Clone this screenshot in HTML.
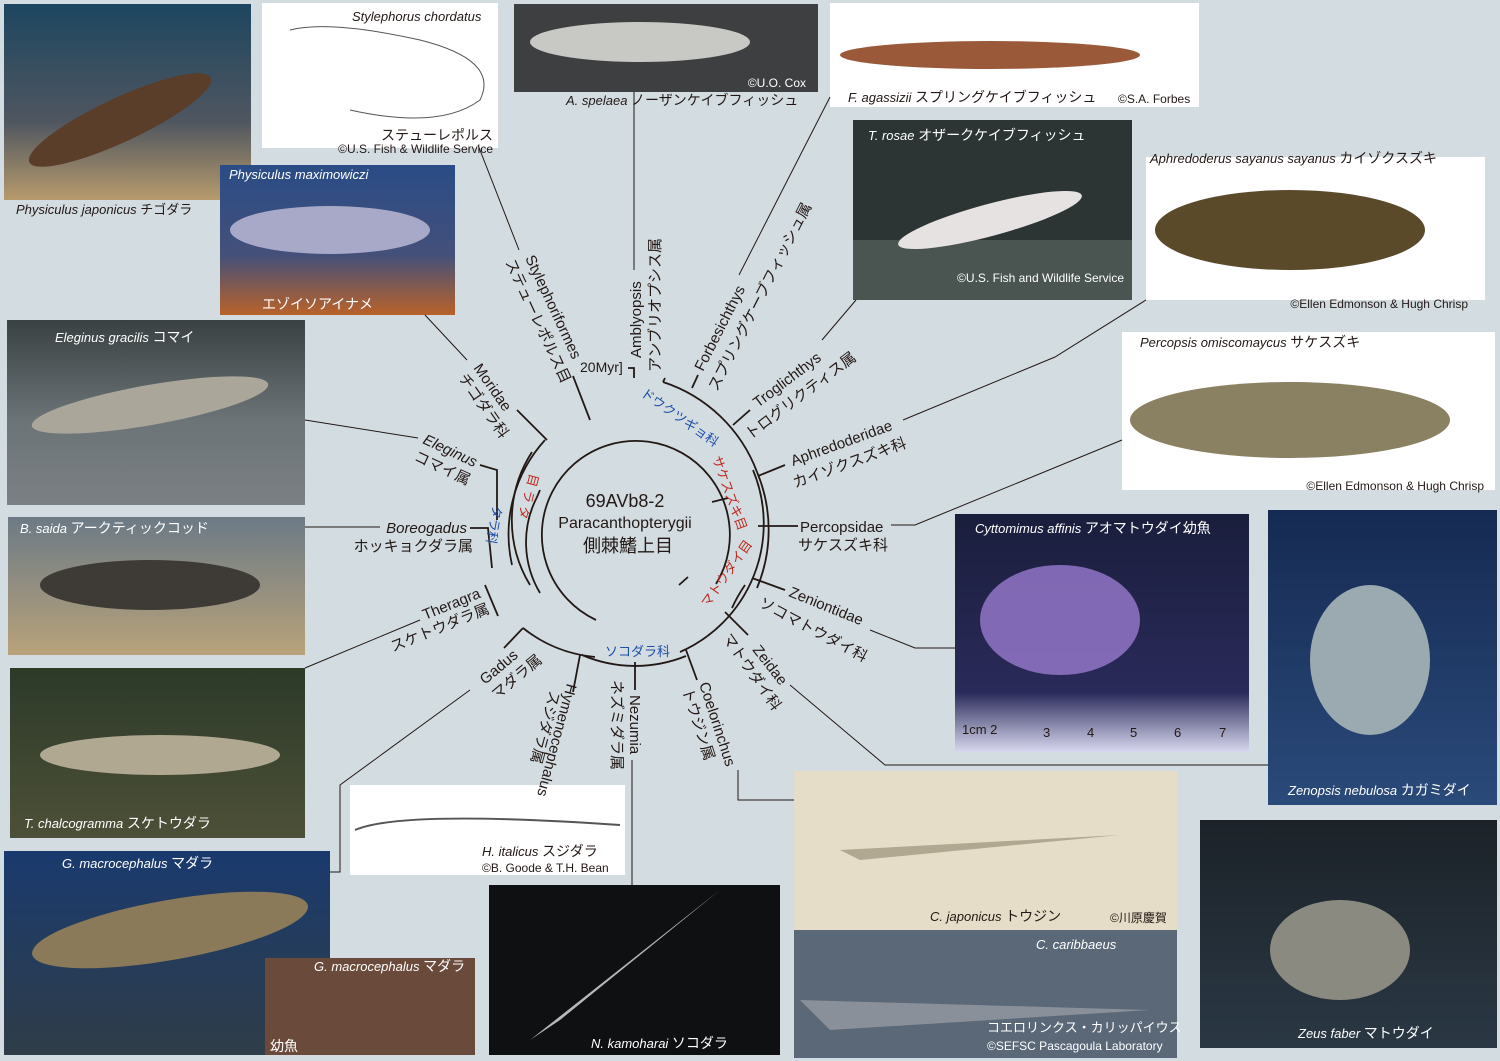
<!DOCTYPE html>
<html><head><meta charset="utf-8"><style>
html,body{margin:0;padding:0;background:#d3dde1;}
svg{display:block;}
text{font-family:"Liberation Sans","Noto Sans CJK JP",sans-serif;fill:#231815;}
.it{font-style:italic;}
.cap{font-size:13px;font-style:italic;}
.w{fill:#fff;}
</style></head><body>
<svg width="1500" height="1061" viewBox="0 0 1500 1061" xmlns="http://www.w3.org/2000/svg">
<rect width="1500" height="1061" fill="#d3dde1"/>
<defs>
<linearGradient id="g1" x1="0" y1="0" x2="0" y2="1"><stop offset="0" stop-color="#1d4660"/><stop offset=".6" stop-color="#4f5660"/><stop offset="1" stop-color="#b79a6c"/></linearGradient>
<linearGradient id="g2" x1="0" y1="0" x2="0" y2="1"><stop offset="0" stop-color="#2a4c86"/><stop offset=".6" stop-color="#44507a"/><stop offset="1" stop-color="#b9622a"/></linearGradient>
<linearGradient id="g3" x1="0" y1="0" x2="0" y2="1"><stop offset="0" stop-color="#3a4142"/><stop offset=".55" stop-color="#6c7478"/><stop offset="1" stop-color="#7b8084"/></linearGradient>
<linearGradient id="g4" x1="0" y1="0" x2="0" y2="1"><stop offset="0" stop-color="#6c7a86"/><stop offset="1" stop-color="#b8a27a"/></linearGradient>
<linearGradient id="g5" x1="0" y1="0" x2="0" y2="1"><stop offset="0" stop-color="#2c3a28"/><stop offset="1" stop-color="#4d5038"/></linearGradient>
<linearGradient id="g6" x1="0" y1="0" x2="0" y2="1"><stop offset="0" stop-color="#1a3a6e"/><stop offset="1" stop-color="#2f3d48"/></linearGradient>
<linearGradient id="g7" x1="0" y1="0" x2="0" y2="1"><stop offset="0" stop-color="#1a1e3c"/><stop offset=".75" stop-color="#2a2a5a"/><stop offset="1" stop-color="#d8d8f0"/></linearGradient>
<linearGradient id="g8" x1="0" y1="0" x2="0" y2="1"><stop offset="0" stop-color="#152a52"/><stop offset="1" stop-color="#2a4a7a"/></linearGradient>
<linearGradient id="g9" x1="0" y1="0" x2="0" y2="1"><stop offset="0" stop-color="#1c2228"/><stop offset="1" stop-color="#2a3844"/></linearGradient>
</defs>

<!-- photos -->
<rect x="4" y="4" width="247" height="196" fill="url(#g1)"/>
<ellipse cx="120" cy="120" rx="100" ry="22" fill="#5a3e2a" transform="rotate(-25 120 120)"/>
<rect x="262" y="3" width="236" height="145" fill="#fff"/>
<path d="M290 30 Q330 20 420 40 Q500 60 480 100 Q440 130 350 110" fill="none" stroke="#555"/>
<rect x="514" y="4" width="304" height="88" fill="#3e3f40"/>
<ellipse cx="640" cy="42" rx="110" ry="20" fill="#c8c8c4"/>
<rect x="830" y="3" width="369" height="104" fill="#fff"/>
<ellipse cx="990" cy="55" rx="150" ry="14" fill="#9a5a3a"/>
<rect x="853" y="120" width="279" height="180" fill="#2c3434"/>
<rect x="853" y="240" width="279" height="60" fill="#4a5450"/>
<ellipse cx="990" cy="220" rx="95" ry="16" fill="#e6e2e2" transform="rotate(-15 990 220)"/>
<rect x="1146" y="157" width="339" height="143" fill="#fff"/>
<ellipse cx="1290" cy="230" rx="135" ry="40" fill="#5a4a2a"/>
<rect x="220" y="165" width="235" height="150" fill="url(#g2)"/>
<ellipse cx="330" cy="230" rx="100" ry="24" fill="#a8a8c8"/>
<rect x="7" y="320" width="298" height="185" fill="url(#g3)"/>
<ellipse cx="150" cy="405" rx="120" ry="20" fill="#aaa69a" transform="rotate(-10 150 405)"/>
<rect x="1122" y="332" width="373" height="158" fill="#fff"/>
<ellipse cx="1290" cy="420" rx="160" ry="38" fill="#8a8062"/>
<rect x="8" y="517" width="297" height="138" fill="url(#g4)"/>
<ellipse cx="150" cy="585" rx="110" ry="25" fill="#3e3a36"/>
<rect x="955" y="514" width="294" height="238" fill="url(#g7)"/>
<ellipse cx="1060" cy="620" rx="80" ry="55" fill="#9a7ad0" opacity=".8"/>
<rect x="1268" y="510" width="229" height="295" fill="url(#g8)"/>
<ellipse cx="1370" cy="660" rx="60" ry="75" fill="#9aaab0"/>
<rect x="10" y="668" width="295" height="170" fill="url(#g5)"/>
<ellipse cx="160" cy="755" rx="120" ry="20" fill="#b0a890"/>
<rect x="350" y="785" width="275" height="90" fill="#fff"/>
<path d="M355 830 Q400 810 620 825" fill="none" stroke="#555" stroke-width="2"/>
<rect x="4" y="851" width="326" height="204" fill="url(#g6)"/>
<ellipse cx="170" cy="930" rx="140" ry="30" fill="#8a7a5a" transform="rotate(-10 170 930)"/>
<rect x="265" y="958" width="210" height="97" fill="#6a4a3a"/>
<rect x="489" y="885" width="291" height="170" fill="#0e1012"/>
<path d="M530 1040 L720 890 L560 1020 Z" fill="#b8b8b8"/>
<rect x="794" y="771" width="383" height="160" fill="#e6ddc8"/>
<path d="M840 850 L1120 835 L860 860 Z" fill="#b0a890"/>
<rect x="794" y="930" width="383" height="128" fill="#5a6878"/>
<path d="M800 1000 L1150 1010 L830 1030 Z" fill="#8a909a"/>
<rect x="1200" y="820" width="297" height="228" fill="url(#g9)"/>
<ellipse cx="1340" cy="950" rx="70" ry="50" fill="#8a8a80"/>

<!-- photo captions -->
<text x="16" y="214" class="cap">Physiculus japonicus <tspan font-style="normal">チゴダラ</tspan></text>
<text x="352" y="21" class="cap">Stylephorus chordatus</text>
<text x="493" y="140" text-anchor="end" font-size="14">ステューレポルス</text>
<text x="493" y="153" text-anchor="end" font-size="12">©U.S. Fish &amp; Wildlife Service</text>
<text x="229" y="179" class="cap w">Physiculus maximowiczi</text>
<text x="262" y="309" class="w" font-size="14">エゾイソアイナメ</text>
<text x="806" y="87" text-anchor="end" class="w" font-size="12">©U.O. Cox</text>
<text x="566" y="105" class="cap">A. spelaea <tspan font-style="normal" font-size="14">ノーザンケイブフィッシュ</tspan></text>
<text x="848" y="102" class="cap">F. agassizii <tspan font-style="normal" font-size="14">スプリングケイブフィッシュ</tspan></text>
<text x="1118" y="103" font-size="12">©S.A. Forbes</text>
<text x="868" y="140" class="cap w">T. rosae <tspan font-style="normal" font-size="14">オザークケイブフィッシュ</tspan></text>
<text x="1124" y="282" text-anchor="end" class="w" font-size="12">©U.S. Fish and Wildlife Service</text>
<text x="1150" y="163" class="cap">Aphredoderus sayanus sayanus <tspan font-style="normal" font-size="14">カイゾクスズキ</tspan></text>
<text x="1468" y="308" text-anchor="end" font-size="12">©Ellen Edmonson &amp; Hugh Chrisp</text>
<text x="1140" y="347" class="cap">Percopsis omiscomaycus <tspan font-style="normal" font-size="14">サケスズキ</tspan></text>
<text x="1484" y="490" text-anchor="end" font-size="12">©Ellen Edmonson &amp; Hugh Chrisp</text>
<text x="55" y="342" class="cap w">Eleginus gracilis <tspan font-style="normal" font-size="14">コマイ</tspan></text>
<text x="20" y="533" class="cap w">B. saida <tspan font-style="normal" font-size="14">アークティックコッド</tspan></text>
<text x="975" y="533" class="cap w">Cyttomimus affinis <tspan font-style="normal" font-size="14">アオマトウダイ幼魚</tspan></text>
<text x="962" y="734" font-size="13">1cm 2</text>
<text x="1043" y="737" font-size="13">3</text><text x="1087" y="737" font-size="13">4</text><text x="1130" y="737" font-size="13">5</text><text x="1174" y="737" font-size="13">6</text><text x="1219" y="737" font-size="13">7</text>
<text x="1288" y="795" class="cap w">Zenopsis nebulosa <tspan font-style="normal" font-size="14">カガミダイ</tspan></text>
<text x="24" y="828" class="cap w">T. chalcogramma <tspan font-style="normal" font-size="14">スケトウダラ</tspan></text>
<text x="482" y="856" class="cap">H. italicus <tspan font-style="normal" font-size="14">スジダラ</tspan></text>
<text x="482" y="872" font-size="12">©B. Goode &amp; T.H. Bean</text>
<text x="62" y="868" class="cap w">G. macrocephalus <tspan font-style="normal" font-size="14">マダラ</tspan></text>
<text x="314" y="971" class="cap w">G. macrocephalus <tspan font-style="normal" font-size="14">マダラ</tspan></text>
<text x="270" y="1051" class="w" font-size="14">幼魚</text>
<text x="591" y="1048" class="cap w">N. kamoharai <tspan font-style="normal" font-size="14">ソコダラ</tspan></text>
<text x="930" y="921" class="cap">C. japonicus <tspan font-style="normal" font-size="14">トウジン</tspan></text>
<text x="1110" y="922" font-size="12">©川原慶賀</text>
<text x="1036" y="949" class="cap w">C. caribbaeus</text>
<text x="987" y="1032" class="w" font-size="13">コエロリンクス・カリッパイウス</text>
<text x="987" y="1050" class="w" font-size="12">©SEFSC Pascagoula Laboratory</text>
<text x="1298" y="1038" class="cap w">Zeus faber <tspan font-style="normal" font-size="14">マトウダイ</tspan></text>

<!-- connector thin lines -->
<g fill="none" stroke="#231815" stroke-width="1">
<path d="M519 250 L478 145"/>
<path d="M634 92 L634 270"/>
<path d="M739 275 L830 97"/>
<path d="M822 340 L856 300"/>
<path d="M903 420 L1055 357 L1146 300"/>
<path d="M891 525 L915 525 L1122 440"/>
<path d="M870 630 L915 648 L955 648"/>
<path d="M790 685 L885 765 L1268 765"/>
<path d="M738 770 L738 800 L794 800"/>
<path d="M632 760 L632 885"/>
<path d="M470 690 L340 785 L340 872 L330 872"/>
<path d="M420 620 L305 668"/>
<path d="M380 527 L305 527"/>
<path d="M418 438 L305 420"/>
<path d="M467 360 L425 315"/>
</g>

<!-- tree -->
<g fill="none" stroke="#231815" stroke-width="1.8">
<!-- inner circle arc -->
<path d="M596 620 A94 94 0 1 1 716 584"/>
<path d="M596 620 L600 602 A76 76 0 0 0 0 0" stroke="none"/>
<path d="M728 498 L712 502"/>
<path d="M679 585 L688 577"/>
<!-- middle ring -->
<path d="M540 490 L537 497 A99 99 0 0 0 540 593"/>
<path d="M680 652 A140 140 0 0 0 753 470"/>
<!-- outer arcs -->
<path d="M545 440 A140 140 0 0 0 512 565"/>
<path d="M532 452 A125 125 0 0 0 530 585"/>
<path d="M523 628 A135 135 0 0 0 595 657"/>
<path d="M582 655 A135 135 0 0 0 686 656"/>
<path d="M663 382 A150 150 0 0 1 757 472"/>
<path d="M757 472 A150 150 0 0 1 757 588"/>
<path d="M732 608 A145 145 0 0 1 745 585"/>
<!-- branches -->
<path d="M590 420 L573 376"/>
<path d="M634 378 L634 368 L628 368"/>
<path d="M663 382 L665 378"/>
<path d="M692 388 L698 375"/>
<path d="M733 425 L750 410"/>
<path d="M758 476 L785 465"/>
<path d="M758 526 L798 526"/>
<path d="M752 578 L785 590"/>
<path d="M725 612 L748 635"/>
<path d="M686 650 L697 680"/>
<path d="M635 662 L635 690"/>
<path d="M580 655 L573 692"/>
<path d="M523 628 L504 648"/>
<path d="M485 585 L498 616"/>
<path d="M470 528 L488 528 L492 568"/>
<path d="M480 465 L497 470 L497 520"/>
<path d="M547 440 L517 410"/>
</g>
<text x="580" y="372" font-size="14">20Myr]</text>

<!-- center -->
<text x="625" y="507" text-anchor="middle" font-size="18">69AVb8-2</text>
<text x="625" y="528" text-anchor="middle" font-size="16">Paracanthopterygii</text>
<text x="628" y="552" text-anchor="middle" font-size="18">側棘鰭上目</text>

<!-- clade labels -->
<text transform="translate(640,395) rotate(35)" font-size="13" fill="#1d4ea8" style="fill:#1d4ea8">ドウクツギョ科</text>
<text transform="translate(712,458) rotate(70)" font-size="13" style="fill:#c0281e">サケスズキ目</text>
<text transform="translate(708,608) rotate(-55)" font-size="13" style="fill:#c0281e">マトウダイ目</text>
<text x="605" y="656" font-size="13" style="fill:#1d4ea8">ソコダラ科</text>
<text transform="translate(493,505) rotate(100)" font-size="13" style="fill:#1d4ea8">タラ科</text>
<text transform="translate(530,473) rotate(105)" font-size="13" style="fill:#c0281e">目 ラ タ</text>

<!-- taxon labels -->
<g font-size="15">
<text transform="translate(525,258) rotate(65)">Stylephoriformes</text>
<text transform="translate(505,262) rotate(65)">ステューレポルス目</text>
<text transform="translate(641,358) rotate(-90)">Amblyopsis</text>
<text transform="translate(660,372) rotate(-90)">アンブリオプシス属</text>
<text transform="translate(703,372) rotate(-63)">Forbesichthys</text>
<text transform="translate(717,392) rotate(-63)">スプリングケーブフィッシュ属</text>
<text transform="translate(758,408) rotate(-37)">Troglichthys</text>
<text transform="translate(750,440) rotate(-37)">トログリクティス属</text>
<text transform="translate(793,466) rotate(-20)">Aphredoderidae</text>
<text transform="translate(795,488) rotate(-20)">カイゾクスズキ科</text>
<text x="800" y="532">Percopsidae</text>
<text x="798" y="550">サケスズキ科</text>
<text transform="translate(788,596) rotate(22)">Zeniontidae</text>
<text transform="translate(758,606) rotate(28)">ソコマトウダイ科</text>
<text transform="translate(752,650) rotate(52)">Zeidae</text>
<text transform="translate(722,638) rotate(55)">マトウダイ科</text>
<text transform="translate(699,684) rotate(72)">Coelorinchus</text>
<text transform="translate(682,690) rotate(72)">トウジン属</text>
<text transform="translate(630,695) rotate(90)">Nezumia</text>
<text transform="translate(612,680) rotate(90)">ネズミダラ属</text>
<text transform="translate(567,683) rotate(105)">Hymenocephalus</text>
<text transform="translate(550,690) rotate(105)">スジダラ属</text>
<text transform="translate(485,685) rotate(-40)">Gadus</text>
<text transform="translate(497,700) rotate(-40)">マダラ属</text>
<text transform="translate(425,620) rotate(-22)">Theragra</text>
<text transform="translate(393,652) rotate(-22)">スケトウダラ属</text>
<text x="467" y="533" text-anchor="end" class="it">Boreogadus</text>
<text x="473" y="551" text-anchor="end">ホッキョクダラ属</text>
<text transform="translate(422,443) rotate(25)" class="it">Eleginus</text>
<text transform="translate(413,460) rotate(25)">コマイ属</text>
<text transform="translate(473,368) rotate(55)">Moridae</text>
<text transform="translate(458,378) rotate(55)">チゴダラ科</text>
</g>
</svg>
</body></html>
